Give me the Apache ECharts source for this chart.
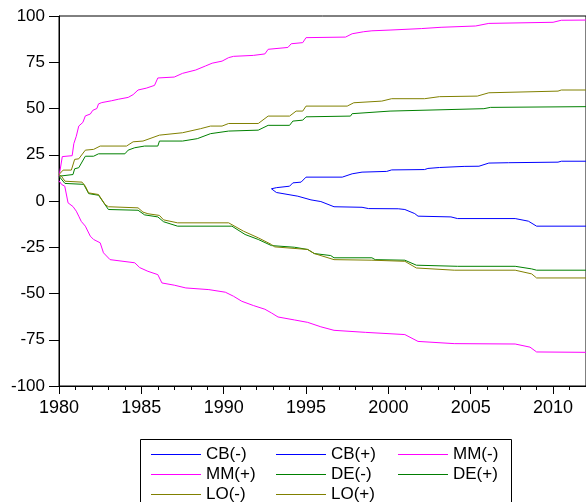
<!DOCTYPE html>
<html>
<head>
    <meta charset="utf-8">
    <title>Cumulative effects</title>
    <script src="https://cdn.jsdelivr.net/npm/echarts@6/dist/echarts.min.js"></script>
    <style>
        body {
            margin: 0;
            background: #fff;
        }

        #chart {
            width: 586px;
            height: 502px;
        }
    </style>
</head>
<body>
<div id="chart"></div>
<script>
    // series, [year, value]
    var cbNeg = [[1992.9, 6.6], [1993.2, 4.6], [1994.5, 2.6], [1995.3, 0.6], [1995.9, -0.3], [1996.7, -3.1], [1998.4, -3.4], [1998.8, -4.1], [2000.6, -4.2], [2001.0, -4.6], [2001.6, -6.8], [2001.8, -8.2], [2003.8, -8.6], [2004.2, -9.5], [2007.7, -9.5], [2008.5, -10.9], [2009.0, -13.6], [2012, -13.6]];
    var cbPos = [[1992.9, 6.6], [1993.2, 7.2], [1994.0, 8], [1994.2, 9.8], [1994.7, 10.2], [1995.0, 12.9], [1997.2, 12.9], [1997.8, 14.7], [1998.4, 15.6], [1999.9, 16], [2000.2, 16.8], [2002.2, 17], [2002.4, 17.6], [2003.1, 18.1], [2004.6, 18.7], [2005.5, 18.8], [2006.1, 20.5], [2007.3, 20.7], [2010.3, 21], [2010.5, 21.5], [2012, 21.5]];
    var mmNeg = [[1980.0, 11], [1980.15, 9], [1980.35, 8], [1980.55, -1], [1980.85, -3], [1981.05, -5.5], [1981.2, -8.2], [1981.35, -11], [1981.6, -13.6], [1981.9, -19], [1982.1, -20.8], [1982.5, -22.6], [1982.7, -28], [1983.1, -31.7], [1984.6, -33.4], [1984.9, -36], [1985.4, -38], [1986.0, -39.8], [1986.25, -44.3], [1987.0, -45.5], [1987.7, -47], [1989.1, -47.9], [1990.1, -49.3], [1990.6, -51.5], [1991.1, -54.2], [1991.8, -56.5], [1992.5, -58.5], [1992.9, -60.5], [1993.3, -62.7], [1994.3, -64.3], [1995.1, -65.6], [1995.9, -68], [1996.7, -69.9], [1998.6, -71], [2001.0, -72.2], [2001.8, -75.9], [2004.0, -77.1], [2007.7, -77.3], [2008.6, -79], [2009.0, -81.6], [2012, -81.8]];
    var mmPos = [[1980.0, 13], [1980.2, 24], [1980.8, 24.5], [1980.9, 31], [1981.05, 35], [1981.2, 40.5], [1981.45, 42.5], [1981.6, 46], [1981.9, 47], [1982.05, 49], [1982.3, 50], [1982.4, 52.5], [1982.6, 53.2], [1983.2, 54.2], [1983.6, 55], [1984.2, 56], [1984.5, 57.5], [1984.8, 60], [1985.3, 61], [1985.8, 62.5], [1986.0, 66.5], [1987.0, 67], [1987.5, 69], [1988.3, 70.8], [1988.9, 73], [1989.3, 74.5], [1989.9, 75.6], [1990.3, 77.5], [1990.6, 78.2], [1991.8, 78.7], [1992.5, 79.5], [1992.7, 82], [1993.9, 83], [1994.1, 85], [1994.8, 85.6], [1995.0, 88.3], [1997.4, 88.6], [1997.8, 90.4], [1998.5, 91.5], [1999.0, 92], [2000.1, 92.4], [2002.0, 93.2], [2003.2, 93.9], [2005.3, 94.6], [2006.1, 96], [2010.0, 96.6], [2010.5, 97.7], [2012, 97.8]];
    var deNeg = [[1980.0, 13.4], [1980.36, 9.5], [1981.5, 9], [1981.8, 4], [1982.4, 3.1], [1983.0, -4.6], [1984.8, -5], [1985.2, -7.5], [1986.0, -8.6], [1986.35, -11.2], [1987.2, -13.6], [1990.5, -13.6], [1991.3, -18.1], [1992.1, -20.8], [1992.9, -24.1], [1994.3, -25], [1995.1, -26.2], [1995.5, -28.4], [1996.5, -29.5], [1996.7, -30.7], [1999.0, -30.7], [1999.2, -31.7], [2001.0, -32], [2001.7, -34.7], [2004.2, -35.3], [2007.7, -35.3], [2008.7, -36.7], [2009.0, -37.4], [2012, -37.4]];
    var dePos = [[1980.0, 13.4], [1980.85, 14.3], [1980.95, 17.4], [1981.2, 18], [1981.6, 24.2], [1982.1, 24.2], [1982.4, 25.5], [1984.0, 25.5], [1984.2, 27.5], [1984.6, 28.8], [1985.2, 29.7], [1986.0, 29.7], [1986.1, 32.4], [1987.5, 32.4], [1988.4, 33.7], [1989.2, 36.4], [1990.3, 37.8], [1992.1, 38.3], [1992.7, 40.9], [1994.0, 40.9], [1994.2, 43.2], [1994.8, 43.7], [1995.0, 45.5], [1997.7, 45.9], [1997.8, 47.2], [2000.1, 48.6], [2005.8, 49.9], [2006.2, 50.6], [2012, 51]];
    var loNeg = [[1980.0, 14.3], [1980.15, 13.4], [1980.36, 10.7], [1981.4, 10.2], [1981.6, 8], [1981.8, 4.4], [1982.4, 3.5], [1982.8, -1.9], [1983.0, -3.1], [1984.8, -3.7], [1985.1, -6], [1985.4, -6.9], [1986.1, -7.8], [1986.35, -10.2], [1987.2, -11.8], [1990.3, -11.8], [1991.2, -16.3], [1992.1, -19.9], [1992.9, -23.5], [1993.1, -24.8], [1995.1, -26.2], [1995.5, -28.4], [1996.7, -31.7], [1999.0, -32], [2001.0, -32.6], [2001.7, -36.2], [2004.0, -37.4], [2007.7, -37.4], [2008.7, -39.4], [2009.0, -41.6], [2012, -41.6]];
    var loPos = [[1980.0, 14.3], [1980.25, 16.7], [1980.75, 16.7], [1980.95, 22.5], [1981.2, 22.8], [1981.6, 27.5], [1982.1, 27.9], [1982.5, 29.7], [1984.1, 29.7], [1984.5, 32], [1985.1, 32.4], [1986.1, 35.6], [1987.5, 36.9], [1988.6, 39.1], [1989.2, 40.5], [1989.9, 40.5], [1990.3, 41.9], [1992.1, 41.9], [1992.7, 45.9], [1994.0, 45.9], [1994.4, 48.6], [1994.8, 48.6], [1995.0, 51.3], [1997.5, 51.3], [1997.9, 53.1], [1999.6, 54], [2000.2, 55.3], [2002.2, 55.3], [2003.1, 56.4], [2005.4, 56.7], [2006.1, 58.5], [2010.3, 59.4], [2010.5, 60], [2012, 60]];

    var names = ['CB(-)', 'CB(+)', 'MM(-)', 'MM(+)', 'DE(-)', 'DE(+)', 'LO(-)', 'LO(+)'];
    var values = [cbNeg, cbPos, mmNeg, mmPos, deNeg, dePos, loNeg, loPos];
    var colors = ['#0000ff', '#0000ff', '#ff00ff', '#ff00ff', '#008000', '#008000', '#808000', '#808000'];

    var font = 'Liberation Sans, Arial, sans-serif';

    var series = [];
    for (var i = 0; i < names.length; i++) {
        series.push({
            name: names[i],
            type: 'line',
            data: values[i],
            symbol: 'none',
            showSymbol: false,
            color: colors[i],
            lineStyle: {width: 1, color: colors[i]}
        });
    }

    // key is 3 columns x 3 rows inside a box; one small legend per entry
    var colLeft = [151, 276, 398];
    var rowTop = [446, 466, 486];
    var legends = [];
    for (var k = 0; k < names.length; k++) {
        legends.push({
            data: [names[k]],
            left: colLeft[k % 3],
            top: rowTop[Math.floor(k / 3)],
            padding: 0,
            icon: 'rect',
            itemWidth: 50,
            itemHeight: 1,
            textStyle: {fontSize: 17, fontFamily: font, color: '#000'}
        });
    }

    var chart = echarts.init(document.getElementById('chart'));
    chart.setOption({
        animation: false,
        grid: {
            left: 59, top: 16, width: 540, height: 370,
            show: true, borderColor: '#000', borderWidth: 1
        },
        xAxis: {
            type: 'value', min: 1980, max: 2012, interval: 5,
            axisLine: {onZero: false, lineStyle: {color: '#000', width: 1}},
            axisTick: {length: 8, lineStyle: {color: '#000'}},
            minorTick: {show: true, splitNumber: 5, length: 4, lineStyle: {color: '#000'}},
            axisLabel: {
                fontSize: 18, fontFamily: font, color: '#000', margin: 13, showMaxLabel: false,
                formatter: function (v) { return String(v); }
            },
            splitLine: {show: false}
        },
        yAxis: {
            type: 'value', min: -100, max: 100, interval: 25,
            axisLine: {show: true, onZero: false, lineStyle: {color: '#000', width: 1}},
            axisTick: {show: true, length: 10, lineStyle: {color: '#000'}},
            axisLabel: {fontSize: 17, fontFamily: font, color: '#000', margin: 14},
            splitLine: {show: false}
        },
        legend: legends,
        graphic: [{
            type: 'rect',
            shape: {x: 140.5, y: 439.5, width: 371, height: 80},
            style: {fill: 'none', stroke: '#000', lineWidth: 1}
        }],
        series: series
    });
</script>
</body>
</html>
